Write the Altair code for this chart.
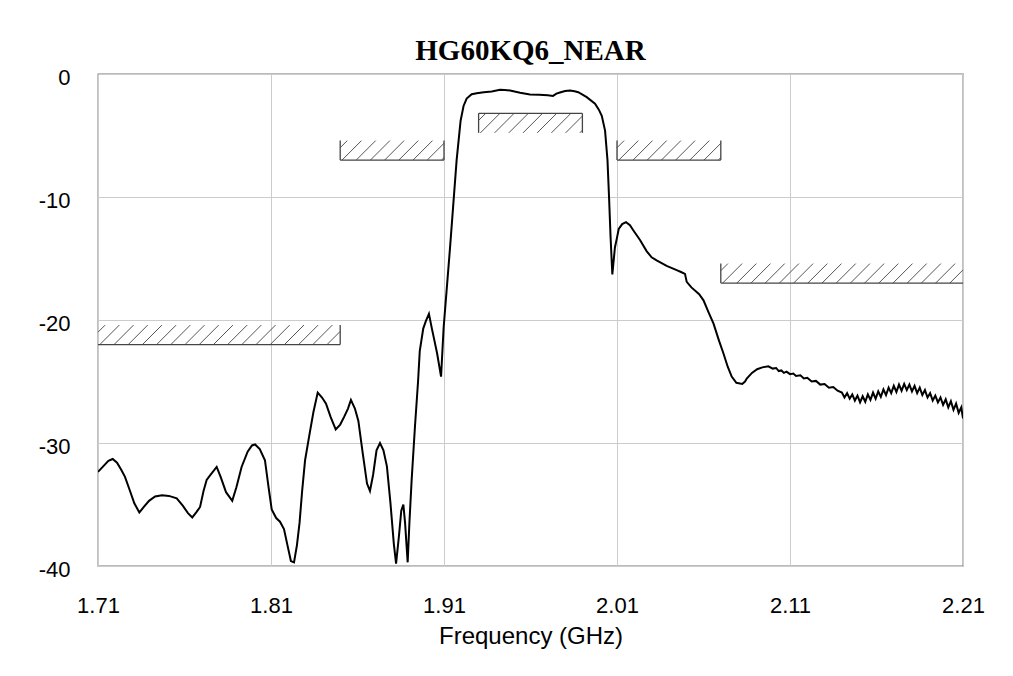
import altair as alt
import numpy as np
import pandas as pd

# ---- measured response (GHz, dB) ----
freq = [
    1.7100, 1.7130, 1.7160, 1.7185, 1.7210, 1.7235, 1.7256, 1.7280, 1.7310, 1.7339,
    1.7365, 1.7395, 1.7430, 1.7470, 1.7510, 1.7555, 1.7590, 1.7620, 1.7645, 1.7670,
    1.7690, 1.7710, 1.7728, 1.7750, 1.7786, 1.7810, 1.7840, 1.7876, 1.7900, 1.7930,
    1.7965, 1.7990, 1.8008, 1.8035, 1.8065, 1.8085, 1.8104, 1.8130, 1.8152, 1.8175,
    1.8195, 1.8215, 1.8233, 1.8250, 1.8265, 1.8280, 1.8297, 1.8320, 1.8345, 1.8370,
    1.8395, 1.8418, 1.8445, 1.8474, 1.8500, 1.8522, 1.8545, 1.8562, 1.8585, 1.8605,
    1.8630, 1.8655, 1.8672, 1.8690, 1.8710, 1.8730, 1.8750, 1.8770, 1.8790, 1.8810,
    1.8823, 1.8840, 1.8853, 1.8865, 1.8875, 1.8890, 1.8900, 1.8913, 1.8932, 1.8950,
    1.8960, 1.8980, 1.8995, 1.9013, 1.9030, 1.9045, 1.9060, 1.9083, 1.9098, 1.9135,
    1.9173, 1.9196, 1.9213, 1.9231, 1.9260, 1.9289, 1.9330, 1.9376, 1.9424, 1.9450,
    1.9482, 1.9540, 1.9597, 1.9650, 1.9700, 1.9730, 1.9750, 1.9770, 1.9800, 1.9828,
    1.9855, 1.9876, 1.9925, 1.9973, 1.9995, 2.0012, 2.0031, 2.0045, 2.0054, 2.0063,
    2.0073, 2.0088, 2.0100, 2.0110, 2.0130, 2.0152, 2.0175, 2.0194, 2.0233, 2.0271,
    2.0300, 2.0329, 2.0387, 2.0445, 2.0470, 2.0493, 2.0503, 2.0530, 2.0575, 2.0600,
    2.0630, 2.0658, 2.0690, 2.0715, 2.0740, 2.0763, 2.0790, 2.0824, 2.0840, 2.0850,
    2.0880, 2.0910, 2.0940, 2.0975, 2.1000, 2.1020, 2.1035, 2.1050, 2.1065, 2.1080,
    2.1100, 2.1119, 2.1135, 2.1160, 2.1180, 2.1200, 2.1225, 2.1250, 2.1275, 2.1300,
    2.1325, 2.1350, 2.1375,
    2.1400, 2.1415, 2.1430, 2.1445, 2.1460, 2.1475, 2.1490, 2.1505, 2.1520, 2.1535,
    2.1550, 2.1565, 2.1580, 2.1595, 2.1610, 2.1625, 2.1640, 2.1655, 2.1670, 2.1685,
    2.1700, 2.1715, 2.1730, 2.1745, 2.1760, 2.1775, 2.1790, 2.1805, 2.1820, 2.1835,
    2.1850, 2.1865, 2.1880, 2.1895, 2.1910, 2.1925, 2.1940, 2.1955, 2.1970, 2.1985,
    2.2000, 2.2015, 2.2030, 2.2045, 2.2060, 2.2075, 2.2090, 2.2100,
]
gain_db = [
    -32.35, -31.90, -31.45, -31.30, -31.60, -32.20, -32.75, -33.70, -34.90, -35.65,
    -35.20, -34.70, -34.35, -34.25, -34.30, -34.50, -35.10, -35.70, -36.05, -35.60,
    -35.20, -33.90, -33.00, -32.60, -31.95, -32.80, -34.00, -34.70, -33.60, -31.95,
    -30.70, -30.20, -30.12, -30.50, -31.40, -33.50, -35.40, -36.10, -36.40, -37.00,
    -38.30, -39.60, -39.70, -38.30, -36.50, -33.90, -31.40, -29.50, -27.50, -25.90,
    -26.30, -26.80, -27.90, -28.90, -28.50, -27.90, -27.20, -26.50, -27.20, -28.20,
    -30.80, -33.30, -33.90, -32.60, -30.60, -30.00, -30.60, -31.90, -34.80, -38.20,
    -39.80, -37.50, -35.50, -35.00, -36.50, -39.70, -36.50, -33.00, -28.70, -25.00,
    -22.50, -20.70, -20.10, -19.50, -20.70, -21.70, -22.70, -24.60, -20.60, -14.10,
    -7.00, -3.80, -2.60, -2.00, -1.65, -1.56, -1.48, -1.42, -1.29, -1.30,
    -1.34, -1.53, -1.67, -1.68, -1.72, -1.78, -1.60, -1.50, -1.38, -1.34,
    -1.40, -1.48, -1.88, -2.42, -2.90, -3.40, -4.60, -7.00, -10.00, -13.30,
    -16.30, -14.10, -13.30, -12.60, -12.20, -12.05, -12.30, -12.70, -13.50, -14.40,
    -14.90, -15.15, -15.60, -15.95, -16.10, -16.25, -16.90, -17.35, -17.90, -18.40,
    -19.40, -20.30, -21.70, -22.70, -23.80, -24.60, -25.10, -25.20, -25.00, -24.76,
    -24.30, -24.00, -23.85, -23.76, -23.95, -23.90, -24.15, -24.10, -24.30, -24.20,
    -24.40, -24.35, -24.55, -24.50, -24.75, -24.70, -25.00, -24.95, -25.25, -25.20,
    -25.50, -25.45, -25.75,
    -25.90, -26.30, -25.95, -26.40, -26.05, -26.55, -26.15, -26.70, -26.20, -26.65,
    -26.05, -26.50, -25.90, -26.40, -25.80, -26.25, -25.65, -26.10, -25.50, -25.95,
    -25.35, -25.85, -25.25, -25.75, -25.20, -25.70, -25.25, -25.80, -25.35, -25.95,
    -25.50, -26.10, -25.70, -26.30, -25.95, -26.55, -26.15, -26.70, -26.30, -26.90,
    -26.45, -27.10, -26.60, -27.30, -26.80, -27.55, -27.10, -28.00,
]

# ---- spec masks ----
mask_start = [1.71, 1.85, 1.93, 2.01, 2.07]
mask_end = [1.85, 1.91, 1.99, 2.07, 2.21]
mask_level = [-22.0, -7.0, -3.2, -7.0, -17.0]
mask_kind = ["max", "max", "min", "max", "max"]   # max: hatch above, min: hatch below
mask_left_edge = [False, True, True, True, True]
mask_right_edge = [True, True, True, True, False]

x_ticks = [1.71, 1.81, 1.91, 2.01, 2.11, 2.21]
y_ticks = [-40, -30, -20, -10, 0]

W, H = 865, 492
X0, X1 = 1.71, 2.21
Y0, Y1 = -40.0, 0.0

band_px = 19.5
hatch_gap_px = 14.2
px_per_ghz = W / (X1 - X0)
px_per_db = H / (Y1 - Y0)
band_db = band_px / px_per_db
hatch_dx = band_px / px_per_ghz
hatch_gap = hatch_gap_px / px_per_ghz

curve = pd.DataFrame({"f": freq, "db": gain_db})

hatch_rows, edge_rows = [], []
for f0, f1, lvl, kind, le, re in zip(mask_start, mask_end, mask_level, mask_kind,
                                      mask_left_edge, mask_right_edge):
    lo = lvl if kind == "max" else lvl - band_db
    hi = lvl + band_db if kind == "max" else lvl
    edge_rows.append({"x": f0, "x2": f1, "y": lvl, "y2": lvl})
    if le:
        edge_rows.append({"x": f0, "x2": f0, "y": lo, "y2": hi})
    if re:
        edge_rows.append({"x": f1, "x2": f1, "y": lo, "y2": hi})
    xb = f0 - hatch_dx + hatch_gap * 0.5
    while xb < f1:
        t0 = max(0.0, (f0 - xb) / hatch_dx)
        t1 = min(1.0, (f1 - xb) / hatch_dx)
        if t1 > t0:
            hatch_rows.append({
                "x": xb + t0 * hatch_dx, "x2": xb + t1 * hatch_dx,
                "y": lo + t0 * (hi - lo), "y2": lo + t1 * (hi - lo),
            })
        xb += hatch_gap

hatch = pd.DataFrame(hatch_rows)
edges = pd.DataFrame(edge_rows)

xs = alt.Scale(domain=[X0, X1], nice=False, zero=False)
ys = alt.Scale(domain=[Y0, Y1], nice=False, zero=False)

x_axis = alt.Axis(values=x_ticks, format=".2f", title="Frequency (GHz)",
                  grid=True, ticks=False, domain=False,
                  labelFontSize=22, labelFont="Liberation Sans", labelColor="black",
                  labelPadding=29, labelFlush=False, labelOverlap=False,
                  titleFontSize=24, titleFont="Liberation Sans", titleFontWeight="normal",
                  titleColor="black", titlePadding=8)
y_axis = alt.Axis(values=y_ticks, labelExpr="'' + datum.value", title=None,
                  grid=True, ticks=False, domain=False,
                  labelFontSize=22, labelFont="Liberation Sans", labelColor="black",
                  labelPadding=28, labelOffset=3, labelFlush=False, labelOverlap=False)

hatch_layer = alt.Chart(hatch).mark_rule(color="#555555", strokeWidth=1).encode(
    x=alt.X("x:Q", scale=xs, axis=x_axis), x2="x2:Q",
    y=alt.Y("y:Q", scale=ys, axis=y_axis), y2="y2:Q",
)
edge_layer = alt.Chart(edges).mark_rule(color="#444444", strokeWidth=1.3).encode(
    x=alt.X("x:Q", scale=xs), x2="x2:Q",
    y=alt.Y("y:Q", scale=ys), y2="y2:Q",
)
line_layer = alt.Chart(curve).mark_line(color="black", strokeWidth=2, clip=True).encode(
    x=alt.X("f:Q", scale=xs),
    y=alt.Y("db:Q", scale=ys),
    order="f:Q",
)

chart = alt.layer(hatch_layer, edge_layer, line_layer).properties(
    width=W, height=H,
    title=alt.TitleParams("HG60KQ6_NEAR", font="Liberation Serif", fontSize=29,
                          fontWeight="bold", color="black", anchor="middle",
                          baseline="alphabetic", offset=15, dy=38),
    autosize=alt.AutoSizeParams(type="none"),
    padding={"left": 90, "top": 66, "right": 40, "bottom": 102},
).configure_view(
    stroke="#777777", strokeWidth=1.3,
).configure_axis(
    gridColor="#cccccc", gridWidth=1,
)

chart.save("out.html", embed_options={"renderer": "svg", "actions": False})
